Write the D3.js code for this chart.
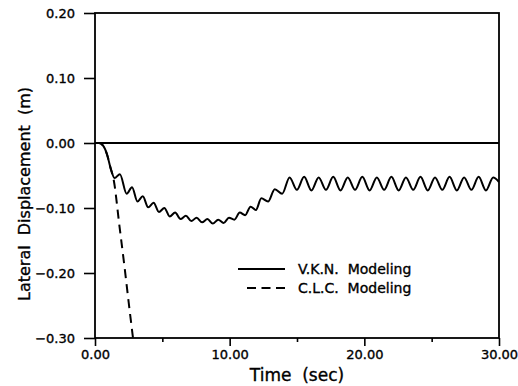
<!DOCTYPE html>
<meta charset="utf-8">
<style>
body { margin: 0; background: #fff; }
svg { display: block; }
text { font-family: "DejaVu Sans", sans-serif; fill: #000; stroke: #000; stroke-width: 0.35px; }
.axis path { display: none; }
.axis line { stroke: #000; stroke-width: 1.6px; }
.axis text { font-size: 13px; }
.frame { stroke: #000; stroke-width: 1.8px; fill: none; }
.curve { fill: none; stroke: #000; stroke-width: 2px; stroke-linejoin: round; }
.dashed { stroke-dasharray: 9,6; }
</style>
<svg width="518" height="386"></svg>
<script src="https://cdn.jsdelivr.net/npm/d3@7"></script>
<script>

// V.K.N. modeling (solid) at peaks / troughs
var vknTime = [0, 0.3, 0.6, 0.9, 1.15, 1.45, 1.85, 2.35, 2.75, 3.15, 3.55, 3.95, 4.35,
  4.75, 5.15, 5.55, 5.95, 6.35, 6.75, 7.15, 7.55, 7.95, 8.35, 8.75, 9.15, 9.55, 9.95,
  10.35, 10.75, 11.15, 11.55, 11.95, 12.35, 12.85, 13.35, 13.9, 14.45, 14.99, 15.53,
  16.07, 16.61, 17.15, 17.69, 18.23, 18.77, 19.31, 19.85, 20.39, 20.93, 21.47, 22.01,
  22.55, 23.09, 23.63, 24.17, 24.71, 25.25, 25.79, 26.33, 26.87, 27.41, 27.95, 28.49,
  29.03, 29.57, 30.0];
var vknDisp = [0, 0, -0.004, -0.018, -0.038, -0.054, -0.048, -0.078, -0.068, -0.090,
  -0.082, -0.099, -0.092, -0.106, -0.100, -0.113, -0.107, -0.117, -0.112, -0.120,
  -0.115, -0.122, -0.117, -0.124, -0.118, -0.123, -0.115, -0.118, -0.107, -0.111,
  -0.098, -0.103, -0.085, -0.090, -0.071, -0.078, -0.053, -0.072, -0.052, -0.073,
  -0.053, -0.072, -0.052, -0.073, -0.053, -0.072, -0.052, -0.073, -0.053, -0.072,
  -0.052, -0.073, -0.053, -0.072, -0.052, -0.073, -0.053, -0.072, -0.052, -0.073,
  -0.053, -0.072, -0.052, -0.073, -0.053, -0.060];

// C.L.C. modeling (dashed)
var clcTime = [0, 0.3, 0.6, 0.9, 1.15, 1.4, 1.8, 2.2, 2.5, 2.85];
var clcDisp = [0, 0, -0.004, -0.018, -0.038, -0.058, -0.125, -0.192, -0.245, -0.305];

var xTicks = [0, 10, 20, 30];
var xMinor = [5, 15, 25];
var yTicks = [0.2, 0.1, 0, -0.1, -0.2, -0.3];
var legendNames = ["V.K.N.  Modeling", "C.L.C.  Modeling"];

var svg = d3.select("svg");

var x = d3.scaleLinear().domain([0, 30]).range([95, 499]);
var y = d3.scaleLinear().domain([-0.3, 0.2]).range([338, 13]);

svg.append("defs").append("clipPath").attr("id", "plot")
  .append("rect")
    .attr("x", x(0)).attr("y", y(0.2))
    .attr("width", x(30) - x(0)).attr("height", y(-0.3) - y(0.2));

// axes
svg.append("g")
    .attr("class", "axis")
    .attr("transform", "translate(0," + y(-0.3) + ")")
    .call(d3.axisBottom(x).tickValues(xTicks).tickSize(8).tickPadding(4)
      .tickFormat(d3.format(".2f")));

svg.append("g")
    .attr("class", "axis")
    .attr("transform", "translate(0," + y(-0.3) + ")")
    .call(d3.axisBottom(x).tickValues(xMinor).tickSize(4).tickFormat(""));

svg.append("g")
    .attr("class", "axis")
    .attr("transform", "translate(" + x(0) + ",0)")
    .call(d3.axisLeft(y).tickValues(yTicks).tickSize(11).tickPadding(9)
      .tickFormat(d3.format(".2f")));

// frame + zero line
svg.append("rect")
    .attr("class", "frame")
    .attr("x", x(0)).attr("y", y(0.2))
    .attr("width", x(30) - x(0)).attr("height", y(-0.3) - y(0.2));

svg.append("line")
    .attr("class", "frame")
    .attr("x1", x(0)).attr("x2", x(30))
    .attr("y1", y(0)).attr("y2", y(0));

var line = d3.line()
    .x(function(d) { return x(d[0]); })
    .y(function(d) { return y(d[1]); })
    .curve(d3.curveMonotoneX);

svg.append("path")
    .datum(d3.zip(clcTime, clcDisp))
    .attr("class", "curve dashed")
    .attr("clip-path", "url(#plot)")
    .attr("d", line);

svg.append("path")
    .datum(d3.zip(vknTime, vknDisp))
    .attr("class", "curve")
    .attr("clip-path", "url(#plot)")
    .attr("d", line);

// legend
var legend = svg.append("g");
legendNames.forEach(function(name, i) {
  var ly = 269 + i * 19;
  legend.append("line")
      .attr("class", i ? "curve dashed" : "curve")
      .attr("x1", i ? 247 : 238).attr("x2", 285)
      .attr("y1", ly).attr("y2", ly)
      .style("stroke-dasharray", i ? "9,5.5" : null);
  legend.append("text")
      .attr("x", 298).attr("y", ly + 5)
      .style("font-size", "14px")
      .style("white-space", "pre")
      .text(name);
});

// axis titles
svg.append("text")
    .attr("x", 297).attr("y", 381)
    .attr("text-anchor", "middle")
    .style("font-size", "17px")
    .style("white-space", "pre")
    .text("Time  (sec)");

svg.append("text")
    .attr("transform", "translate(30,194) rotate(-90)")
    .attr("text-anchor", "middle")
    .style("font-size", "16px")
    .style("white-space", "pre")
    .text("Lateral  Displacement  (m)");

</script>
